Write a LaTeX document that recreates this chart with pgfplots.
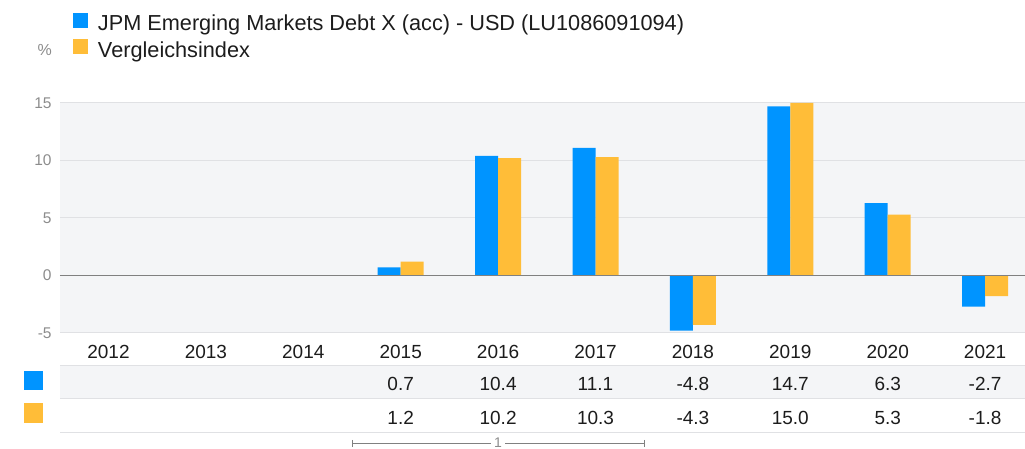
\documentclass[border=0pt]{standalone}
\usepackage{fontspec}
\setmainfont{Liberation Sans}
\usepackage{pgfplots}
\pgfplotsset{compat=1.18}
\definecolor{fundblue}{RGB}{0,148,255}
\definecolor{benchorange}{RGB}{255,189,56}
\definecolor{plotbg}{RGB}{244,245,247}
\definecolor{gridc}{RGB}{224,225,228}
\definecolor{zeroc}{RGB}{128,128,128}
\definecolor{tickc}{RGB}{140,140,140}
\definecolor{txt}{RGB}{28,28,28}
\begin{document}
\begin{tikzpicture}[x=1pt,y=1pt]
\useasboundingbox (0,0) rectangle (1025,449);
\begin{axis}[
  at={(59.8pt,116pt)}, anchor=south west,
  width=974pt, height=230pt, scale only axis,
  xmin=-0.5, xmax=9.5, ymin=-5, ymax=15,
  enlargelimits=false, clip=false,
  axis line style={draw=none},
  major tick length=0pt,
  axis background/.style={fill=plotbg},
  ymajorgrids, grid style={gridc, line width=1pt},
  ytick={-5,0,5,10,15},
  yticklabels={-5,0,5,10,15},
  yticklabel style={anchor=east, inner sep=0pt, xshift=-8pt, text=tickc, font=\fontsize{15.5}{18}\selectfont},
  xtick={0,...,9},
  xticklabels={2012,2013,2014,2015,2016,2017,2018,2019,2020,2021},
  xticklabel style={anchor=base, inner sep=0pt, yshift=-25.3pt, text=txt, font=\fontsize{19}{22}\selectfont},
  /pgf/number format/assume math mode=true,
  ylabel={\%},
  every axis y label/.style={at={(axis description cs:-0.008,1.2304)}, anchor=east, inner sep=0pt, text=tickc, font=\fontsize{16}{19}\selectfont},
  ybar=0pt, bar width=23pt,
  legend style={at={(axis description cs:0.01355,1.3922)}, anchor=north west, draw=none, fill=none,
    inner sep=0pt, outer sep=0pt, row sep=3.5pt,
    font=\fontsize{21.7}{25}\selectfont, text=txt,
    nodes={inner sep=0pt, outer sep=0pt, text height=16.5pt, text depth=5pt},
    /tikz/every odd column/.append style={column sep=10pt}},
  legend cell align=left,
]
\addplot[fill=fundblue, draw=none,
  legend image code/.code={\fill[fundblue] (0pt,-2.7pt) rectangle (15pt,12.3pt);}]
  coordinates {(3,0.7) (4,10.4) (5,11.1) (6,-4.8) (7,14.7) (8,6.3) (9,-2.7)};
\addlegendentry{JPM Emerging Markets Debt X (acc) - USD (LU1086091094)}
\addplot[fill=benchorange, draw=none,
  legend image code/.code={\fill[benchorange] (0pt,-2.7pt) rectangle (15pt,12.3pt);}]
  coordinates {(3,1.2) (4,10.2) (5,10.3) (6,-4.3) (7,15.0) (8,5.3) (9,-1.8)};
\addlegendentry{Vergleichsindex}
% zero line
\draw[zeroc, line width=1.3pt] (axis cs:-0.5,0) -- (axis cs:9.5,0);
% table
\fill[plotbg] (axis cs:-0.5,-7.783) rectangle (axis cs:9.5,-10.678);
\draw[gridc, line width=1pt] (axis cs:-0.5,-7.783) -- (axis cs:9.5,-7.783);
\draw[gridc, line width=1pt] (axis cs:-0.5,-10.678) -- (axis cs:9.5,-10.678);
\draw[gridc, line width=1pt] (axis cs:-0.5,-13.635) -- (axis cs:9.5,-13.635);
\fill[fundblue] (axis cs:-0.8676,-9.957) rectangle (axis cs:-0.6694,-8.278);
\fill[benchorange] (axis cs:-0.8676,-12.8) rectangle (axis cs:-0.6694,-11.113);
\begin{scope}[every node/.style={anchor=base, inner sep=0pt, text=txt, font=\fontsize{19}{22}\selectfont}]
\node at (axis cs:3,-9.957) {0.7};
\node at (axis cs:4,-9.957) {10.4};
\node at (axis cs:5,-9.957) {11.1};
\node at (axis cs:6,-9.957) {-4.8};
\node at (axis cs:7,-9.957) {14.7};
\node at (axis cs:8,-9.957) {6.3};
\node at (axis cs:9,-9.957) {-2.7};
\node at (axis cs:3,-12.939) {1.2};
\node at (axis cs:4,-12.939) {10.2};
\node at (axis cs:5,-12.939) {10.3};
\node at (axis cs:6,-12.939) {-4.3};
\node at (axis cs:7,-12.939) {15.0};
\node at (axis cs:8,-12.939) {5.3};
\node at (axis cs:9,-12.939) {-1.8};
\end{scope}
% bracket
\draw[zeroc, line width=1pt] (axis cs:2.5,-14.30) -- (axis cs:2.5,-14.88);
\draw[zeroc, line width=1pt] (axis cs:5.5,-14.30) -- (axis cs:5.5,-14.88);
\draw[zeroc, line width=1pt] (axis cs:2.5,-14.591) -- (axis cs:5.5,-14.591);
\node[fill=white, inner xsep=3pt, inner ysep=0pt, text=tickc, font=\fontsize{14}{14}\selectfont] at (axis cs:4,-14.56) {1};
\end{axis}
\end{tikzpicture}
\end{document}
